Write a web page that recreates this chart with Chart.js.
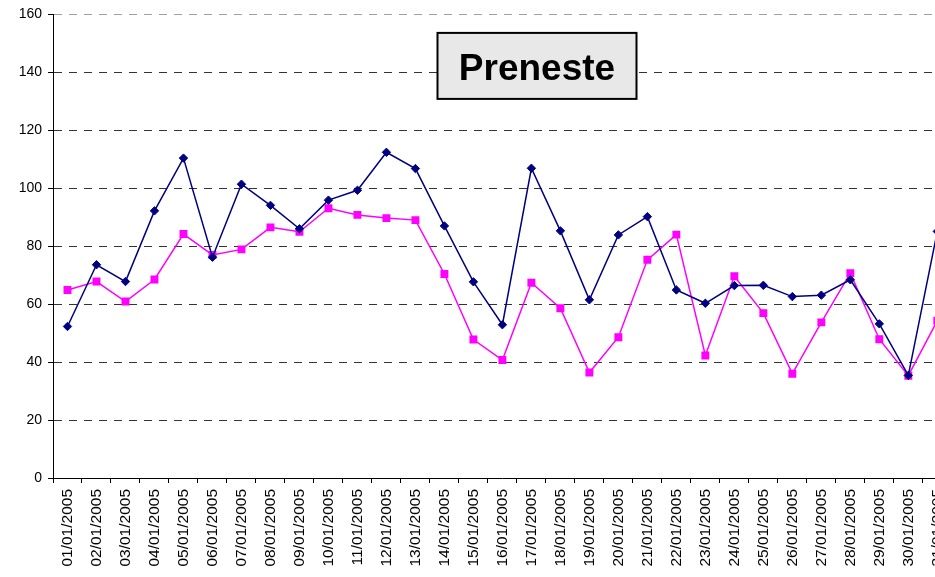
<!DOCTYPE html>
<html>
<head>
<meta charset="utf-8">
<script src="https://cdn.jsdelivr.net/npm/chart.js@4"></script>
<style>
  html, body { margin: 0; padding: 0; background: #fff; overflow: hidden; }
  canvas { display: block; }
</style>
</head>
<body>
<canvas id="myChart" width="962" height="577"></canvas>
<script>
var days = ['01/01/2005', '02/01/2005', '03/01/2005', '04/01/2005', '05/01/2005', '06/01/2005',
            '07/01/2005', '08/01/2005', '09/01/2005', '10/01/2005', '11/01/2005', '12/01/2005',
            '13/01/2005', '14/01/2005', '15/01/2005', '16/01/2005', '17/01/2005', '18/01/2005',
            '19/01/2005', '20/01/2005', '21/01/2005', '22/01/2005', '23/01/2005', '24/01/2005',
            '25/01/2005', '26/01/2005', '27/01/2005', '28/01/2005', '29/01/2005', '30/01/2005',
            '31/01/2005'];

// navy series (diamonds)
var serieBlu = [52.3, 73.6, 67.8, 92.2, 110.4, 76.2, 101.4, 94.1, 86, 95.9, 99.3, 112.4,
                106.8, 87, 67.7, 52.9, 106.9, 85.3, 61.5, 83.9, 90.2, 64.9, 60.3, 66.4,
                66.5, 62.6, 63.1, 68.4, 53.2, 35.4, 85.1];

// magenta series (squares)
var serieFucsia = [64.9, 67.8, 60.9, 68.5, 84.2, 77, 78.9, 86.5, 85, 93.1, 90.8, 89.7,
                   89, 70.4, 47.8, 40.7, 67.4, 58.6, 36.4, 48.6, 75.3, 84, 42.3, 69.6,
                   56.9, 36, 53.7, 70.7, 47.9, 35.3, 54.3];

var yTicks = [0, 20, 40, 60, 80, 100, 120, 140, 160];
var titolo = 'Preneste';

var font = 'Arial, "Liberation Sans", sans-serif';

// title box drawn over the plot area
var titleBox = {
  id: 'titleBox',
  afterDraw: function(chart) {
    var c = chart.ctx;
    var a = chart.chartArea;
    var x = a.left + 384.5, y = a.top + 18.5, w = 199, h = 66;
    c.save();
    c.fillStyle = '#e8e8e8';
    c.fillRect(x, y, w, h);
    c.strokeStyle = '#000';
    c.lineWidth = 2;
    c.strokeRect(x, y, w, h);
    c.fillStyle = '#000';
    c.font = 'bold 37px ' + font;
    c.textAlign = 'center';
    c.textBaseline = 'alphabetic';
    c.fillText(titolo, x + w / 2, y + 47.5);
    c.restore();
  }
};

var ctx = document.getElementById('myChart');
var myChart = new Chart(ctx, {
  type: 'line',
  data: {
    labels: days,
    datasets: [{
      data: serieBlu,
      borderColor: '#000080',
      backgroundColor: '#000080',
      borderWidth: 1.5,
      pointStyle: 'rectRot',
      pointRadius: 4.2,
      pointBorderWidth: 1,
      tension: 0
    }, {
      data: serieFucsia,
      borderColor: '#ff00ff',
      backgroundColor: '#ff00ff',
      borderWidth: 1.5,
      pointStyle: 'rect',
      pointRadius: 5.6,
      pointBorderWidth: 0,
      tension: 0
    }]
  },
  options: {
    responsive: false,
    animation: false,
    layout: { padding: { top: 13, right: 0, left: 0, bottom: 0 } },
    plugins: {
      legend: { display: false },
      tooltip: { enabled: false }
    },
    scales: {
      x: {
        offset: true,
        grid: {
          drawOnChartArea: false,
          drawTicks: true,
          tickLength: 5,
          tickColor: '#000',
          offset: true
        },
        border: { display: true, color: '#000', width: 1 },
        ticks: {
          autoSkip: false,
          minRotation: 90,
          maxRotation: 90,
          padding: 6,
          color: '#000',
          font: { family: font, size: 15.5 }
        },
        afterFit: function(scale) { scale.height = 99; }
      },
      y: {
        min: 0,
        max: 160,
        afterBuildTicks: function(scale) {
          scale.ticks = yTicks.map(function(v) { return { value: v }; });
        },
        grid: {
          color: function(c) { return c.tick && c.tick.value === 160 ? '#a0a0a0' : '#333'; },
          lineWidth: 1,
          tickLength: 5,
          tickColor: '#000'
        },
        border: { display: true, color: '#000', width: 1, dash: [8, 7] },
        ticks: {
          padding: 6,
          color: '#000',
          font: { family: font, size: 14 }
        },
        afterFit: function(scale) { scale.width = 53; }
      }
    }
  },
  plugins: [titleBox]
});
</script>
</body>
</html>
